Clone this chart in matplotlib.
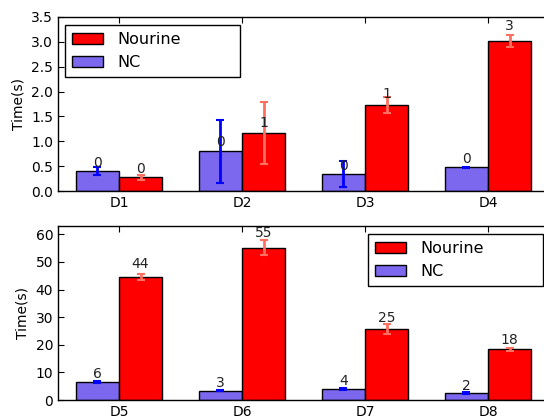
import matplotlib
matplotlib.use("Agg")
import matplotlib.pyplot as plt
import numpy as np

cats_top = ["D1", "D2", "D3", "D4"]
nc_top = [0.41, 0.80, 0.35, 0.48]
nc_top_err = [0.08, 0.63, 0.26, 0.01]
nour_top = [0.28, 1.17, 1.73, 3.02]
nour_top_err = [0.05, 0.63, 0.17, 0.125]

cats_bot = ["D5", "D6", "D7", "D8"]
nc_bot = [6.6, 3.4, 4.0, 2.5]
nc_bot_err = [0.3, 0.2, 0.3, 0.3]
nour_bot = [44.6, 55.2, 25.7, 18.3]
nour_bot_err = [1.1, 2.6, 1.8, 0.6]

NC_COLOR = "#7b68ee"
NOUR_COLOR = "#ff0000"
NOUR_ECOLOR = "#ff7060"
width = 0.35

fig = plt.figure(figsize=(5.44, 4.17), dpi=100)
W, H = 544.0, 417.0
left = 58 / W
axw = (4.0 * 123) / W

ax1 = fig.add_axes([left, 1 - 191 / H, axw, 174 / H])
ax2 = fig.add_axes([left, 1 - 400 / H, axw, 174 / H])


def draw(ax, cats, nc, nce, nr, nre, ylim, yticks, anchor):
    idx = np.arange(len(cats))
    b1 = ax.bar(idx, nc, width, align="edge", color=NC_COLOR, edgecolor="black",
                linewidth=1, yerr=nce, ecolor="blue",
                error_kw=dict(elinewidth=2, capsize=3, capthick=1.5), label="NC")
    b2 = ax.bar(idx + width, nr, width, align="edge", color=NOUR_COLOR, edgecolor="black",
                linewidth=1, yerr=nre, ecolor=NOUR_ECOLOR,
                error_kw=dict(elinewidth=2, capsize=3, capthick=1.5), label="Nourine")
    for bars in (b1, b2):
        for r in bars:
            h = r.get_height()
            ax.text(r.get_x() + r.get_width() / 2, 1.05 * h, "%d" % int(h),
                    ha="center", va="bottom", fontsize=10, color="#222222")
    ax.set_xlim(-0.146, 3.854)
    ax.set_ylim(*ylim)
    ax.set_yticks(yticks)
    ax.set_xticks(idx + width)
    ax.set_xticklabels(cats)
    ax.set_ylabel("Time(s)", fontsize=10)
    ax.tick_params(direction="in", top=True, right=True, labelsize=10, length=4)
    for s in ax.spines.values():
        s.set_linewidth(1)
    leg = ax.legend([b2, b1], ["Nourine", "NC"], loc="upper left", mode="expand",
                    bbox_to_anchor=anchor, bbox_transform=fig.transFigure,
                    fontsize=11.5, fancybox=False, edgecolor="black",
                    framealpha=1, borderaxespad=0, handlelength=1.95,
                    handletextpad=0.9, borderpad=0.45)
    leg.get_frame().set_linewidth(1)


draw(ax1, cats_top, nc_top, nc_top_err, nour_top, nour_top_err,
     (0, 3.5), np.arange(0, 3.51, 0.5),
     (65 / W, 1 - 76 / H, 175 / W, 51 / H))
ax1.set_yticklabels(["%.1f" % v for v in np.arange(0, 3.51, 0.5)])
draw(ax2, cats_bot, nc_bot, nc_bot_err, nour_bot, nour_bot_err,
     (0, 63), [0, 10, 20, 30, 40, 50, 60],
     (368 / W, 1 - 286 / H, 175 / W, 52 / H))

fig.savefig("out.png", dpi=100)
